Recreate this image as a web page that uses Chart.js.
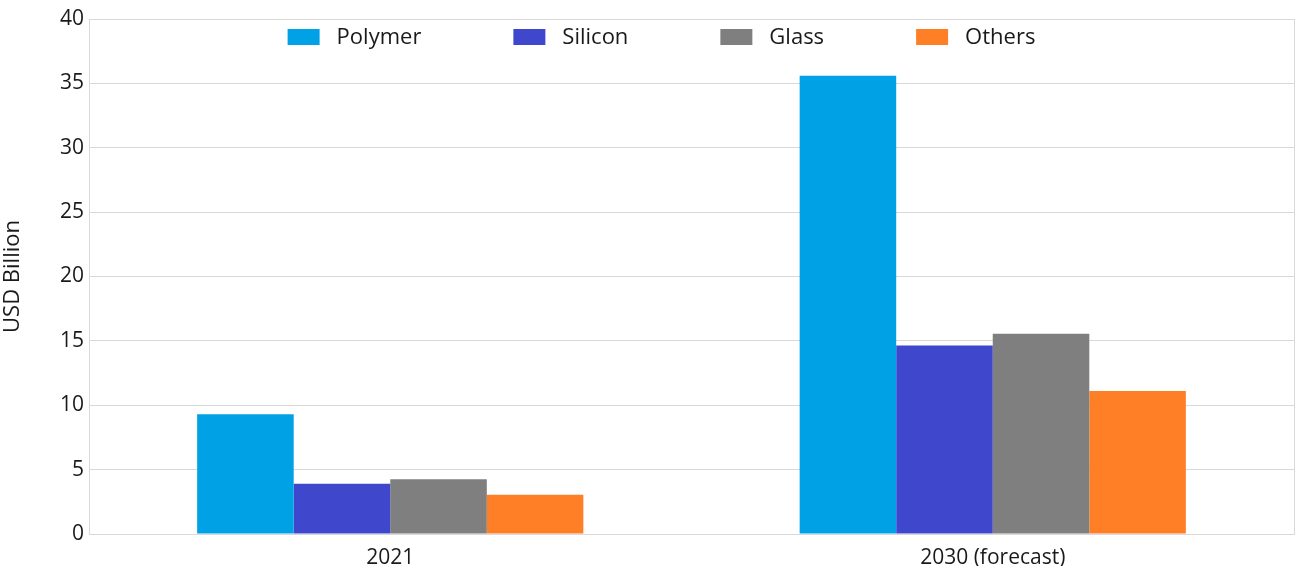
<!DOCTYPE html>
<html>
<head>
<meta charset="utf-8">
<script src="https://cdn.jsdelivr.net/npm/chart.js@4/dist/chart.umd.min.js"></script>
<style>
  html, body { margin: 0; padding: 0; background: #fff; }
  #wrap { width: 1295px; height: 566px; }
</style>
</head>
<body>
<div id="wrap"><canvas id="marketChart"></canvas></div>
<script>
const years = ['2021', '2030 (forecast)'];
const polymer = [9.3, 35.6];
const silicon = [3.9, 14.65];
const glass = [4.25, 15.55];
const others = [3.05, 11.1];

const family = "'Open Sans', 'Noto Sans', sans-serif";
const tickFont = { family: family, size: 21 };
const labelFont = { family: family, size: 22 };
const gridColor = '#d9d9d9';
const textColor = '#1a1a1a';

// single-row legend drawn inside the top of the plot
const topLegend = {
  id: 'topLegend',
  afterDraw(chart) {
    const c = chart.ctx;
    const area = chart.chartArea;
    const sets = chart.data.datasets;
    const box = 32, boxH = 16, gap = 17, spacing = 92;
    c.save();
    c.font = labelFont.size + 'px ' + family;
    c.textBaseline = 'middle';
    const widths = sets.map(d => box + gap + c.measureText(d.label).width);
    const total = widths.reduce((a, b) => a + b, 0) + spacing * (sets.length - 1);
    let x = (area.left + area.right) / 2 - 30 - total / 2;
    const y = area.top + 18;
    sets.forEach((d, i) => {
      c.fillStyle = d.backgroundColor;
      c.fillRect(x, y - boxH / 2, box, boxH);
      c.fillStyle = textColor;
      c.fillText(d.label, x + box + gap, y + 1);
      x += widths[i] + spacing;
    });
    c.restore();
  }
};

Chart.defaults.font.family = family;
Chart.defaults.color = textColor;

const ctx = document.getElementById('marketChart').getContext('2d');
new Chart(ctx, {
  type: 'bar',
  data: {
    labels: years,
    datasets: [
      { label: 'Polymer', data: polymer, backgroundColor: '#00A2E5' },
      { label: 'Silicon', data: silicon, backgroundColor: '#3F48CC' },
      { label: 'Glass', data: glass, backgroundColor: '#7F7F7F' },
      { label: 'Others', data: others, backgroundColor: '#FF7F27' }
    ]
  },
  options: {
    responsive: true,
    maintainAspectRatio: false,
    animation: false,
    layout: { padding: { top: 19, right: 1, left: 0, bottom: 0 } },
    datasets: { bar: { barPercentage: 1, categoryPercentage: 0.641, borderWidth: 0 } },
    plugins: {
      legend: { display: false },
      tooltip: { enabled: false }
    },
    scales: {
      x: {
        grid: { display: false },
        border: { color: gridColor },
        ticks: { font: tickFont, padding: 3 },
        afterFit(s) { s.height = 32; }
      },
      y: {
        min: 0, max: 40,
        ticks: { stepSize: 5, font: tickFont, padding: 5 },
        grid: { color: gridColor, drawTicks: false },
        border: { color: gridColor },
        title: { display: true, text: 'USD Billion', font: labelFont, padding: { top: 0, bottom: 4 } },
        afterFit(s) { s.width = 89; }
      },
      yRight: {
        position: 'right',
        min: 0, max: 40,
        ticks: { display: false },
        grid: { display: false, drawTicks: false },
        border: { color: gridColor },
        afterFit(s) { s.width = 0; }
      }
    }
  },
  plugins: [topLegend]
});
</script>
</body>
</html>
